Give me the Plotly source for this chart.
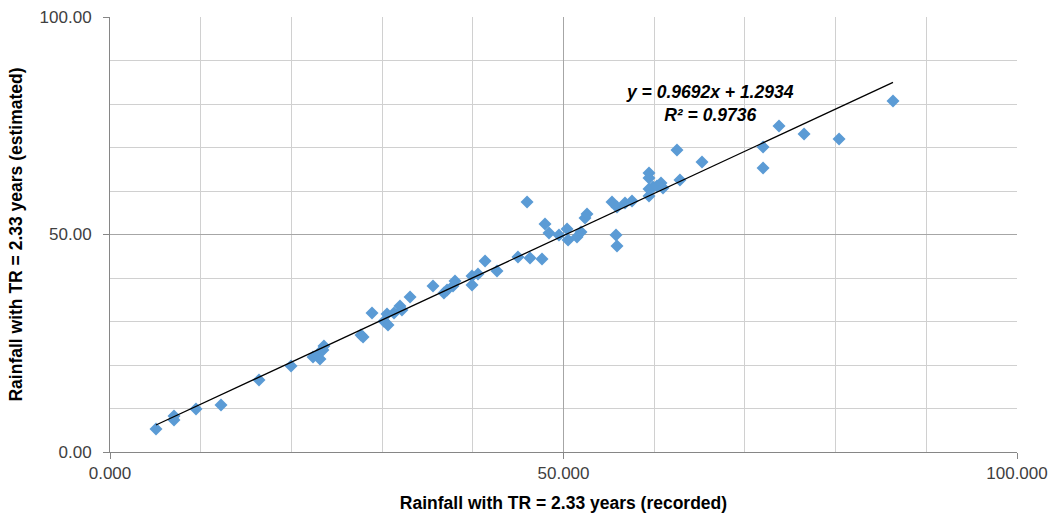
import plotly.graph_objects as go

recorded = [5.07, 7.06, 7.06, 9.48, 12.24, 16.43, 19.96, 22.38, 23.04, 23.15, 23.48, 23.59,
            27.67, 27.90, 28.89, 30.21, 30.54, 30.65, 31.31, 31.97, 32.19, 33.08, 35.61, 36.82,
            37.16, 37.82, 38.04, 39.91, 39.91, 40.57, 41.35, 42.67, 44.98, 45.98, 46.31, 47.63,
            47.96, 48.40, 49.50, 50.39, 50.50, 51.49, 51.93, 52.37, 52.59, 55.35, 55.90, 55.79,
            55.90, 56.78, 57.55, 59.43, 59.43, 59.43, 59.43, 59.87, 60.31, 60.75, 60.97, 62.51,
            62.84, 65.27, 72.00, 72.00, 73.76, 76.52, 80.38, 86.33]
estimated = [5.29, 8.28, 7.36, 9.89, 10.80, 16.55, 19.77, 21.84, 22.76, 21.38, 23.45, 24.37,
             26.90, 26.44, 31.95, 30.04, 31.72, 29.20, 31.95, 33.56, 32.64, 35.63, 38.16, 36.55,
             37.24, 38.16, 39.31, 38.39, 40.46, 40.92, 43.91, 41.61, 44.83, 57.47, 44.60, 44.37,
             52.41, 50.34, 49.89, 51.26, 48.74, 49.43, 50.57, 53.79, 54.71, 57.47, 56.32, 49.89,
             47.36, 57.24, 57.70, 58.85, 60.46, 64.14, 62.99, 60.92, 61.15, 61.84, 60.69, 69.43,
             62.53, 66.67, 70.11, 65.29, 74.94, 73.10, 71.95, 80.69]

slope = 0.9692
intercept = 1.2934
r_squared = 0.9736

x_ticks = [0, 50, 100]
x_tick_text = ["0.000", "50.000", "100.000"]
y_ticks = [0, 50, 100]
y_tick_text = ["0.00", "50.00", "100.00"]

FONT = "Liberation Sans, Arial, sans-serif"

x_line = [min(recorded), max(recorded)]
y_line = [slope * v + intercept for v in x_line]

fig = go.Figure()
fig.add_trace(go.Scatter(
    x=recorded, y=estimated, mode="markers",
    marker=dict(symbol="diamond", size=10, color="#5B9BD5", line=dict(width=0)),
    showlegend=False, hoverinfo="x+y"))
fig.add_trace(go.Scatter(
    x=x_line, y=y_line, mode="lines",
    line=dict(color="black", width=1.3), showlegend=False, hoverinfo="skip"))

fig.add_annotation(
    x=0.661, y=0.801, xref="paper", yref="paper", xanchor="center", yanchor="middle",
    text=f"<b><i>y = {slope}x + {intercept}</i></b><br><b><i>R² = {r_squared}</i></b>",
    showarrow=False, align="center",
    font=dict(family=FONT, size=17.5, color="black"))

axis_common = dict(
    range=[0, 100], showgrid=True, gridcolor="#A6A6A6", gridwidth=1,
    zeroline=False, showline=True, linecolor="#868686", linewidth=1,
    ticks="outside", ticklen=6, tickcolor="#868686", automargin=False,
    minor=dict(dtick=10, showgrid=True, gridcolor="#D0D0D0", gridwidth=1, ticks=""),
    tickfont=dict(family=FONT, size=17, color="#404040"),
    title_font=dict(family=FONT, size=17.5, color="black"),
)

fig.update_layout(
    width=1052, height=517,
    margin=dict(l=110, r=35, t=17, b=65),
    paper_bgcolor="white", plot_bgcolor="white",
    xaxis=dict(**axis_common, tickvals=x_ticks, ticktext=x_tick_text,
               title=dict(text="<b>Rainfall with TR = 2.33 years (recorded)</b>", standoff=14)),
    yaxis=dict(**axis_common, tickvals=y_ticks, ticktext=y_tick_text, ticklabelstandoff=8,
               title=dict(text="<b>Rainfall with TR = 2.33 years (estimated)</b>", standoff=12)),
)

fig.write_html("out.html")
